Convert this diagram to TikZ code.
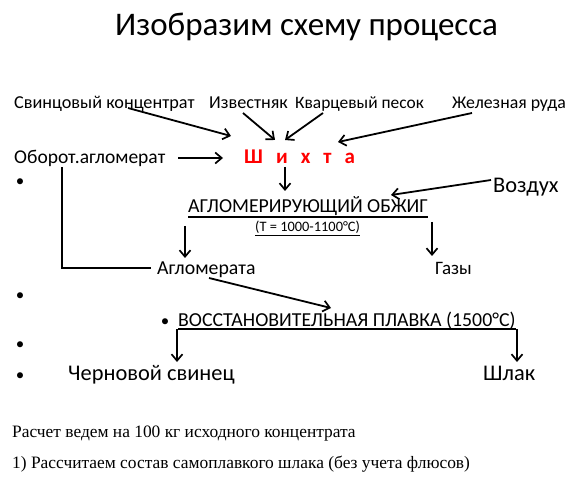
\documentclass[tikz,border=0pt]{standalone}
\usepackage{fontspec}
\setmainfont{Carlito}
\newfontfamily\tnr{Liberation Serif}
\usetikzlibrary{arrows.meta,calc}
\tikzset{
  lbl/.style={anchor=base west, inner sep=0pt, font=\fontsize{18.2}{21}\selectfont},
  mid/.style={anchor=base west, inner sep=0pt, font=\fontsize{19.8}{23}\selectfont},
  big/.style={anchor=base west, inner sep=0pt, font=\fontsize{22.4}{26}\selectfont},
  arr/.style={line width=1.8pt, -{Straight Barb[length=6.5pt,width=11pt,line width=1.7pt]}},
  ln/.style={line width=1.8pt},
  bul/.style={anchor=base, inner sep=0pt, font=\fontsize{17}{20}\selectfont},
  ul/.style={line width=1.2pt}
}
\begin{document}
\begin{tikzpicture}[x=1pt,y=-1pt]
\useasboundingbox (0,0) rectangle (570,478);
% title
\node[anchor=base west, inner sep=0pt, font=\fontsize{33}{38}\selectfont] (title) at (115,36) {Изобразим схему процесса};
% inputs
\node[lbl] (svin) at (14,109) {Свинцовый концентрат};
\node[lbl] (izv) at (209,109) {Известняк};
\node[lbl, font=\fontsize{17.4}{21}\selectfont] (kvar) at (295,109) {Кварцевый песок};
\node[lbl, font=\fontsize{17.8}{21}\selectfont] (zhel) at (452,109) {Железная руда};
\node[mid, font=\fontsize{19.5}{23}\selectfont] (obor) at (14,164) {Оборот.агломерат};
\node[anchor=base west, inner sep=0pt, font=\fontsize{21}{25}\selectfont\bfseries, text=red] (shihta) at (244,164) {Ш\hspace{0.62em}и\hspace{0.62em}х\hspace{0.62em}т\hspace{0.62em}а};
\node[big] (vozd) at (493,193) {Воздух};
\node[mid] (aglob) at (188,213) {АГЛОМЕРИРУЮЩИЙ ОБЖИГ};
\node[anchor=base west, inner sep=0pt, font=\fontsize{14.4}{17}\selectfont] (temp) at (255,232) {(T = 1000-1100°C)};
\node[mid] (aglo) at (157,275) {Агломерата};
\node[mid, font=\fontsize{19}{23}\selectfont] (gazy) at (435,275) {Газы};
\node[bul] (b5) at (165,326) {•};
\node[mid] (vos) at (178,326) {ВОССТАНОВИТЕЛЬНАЯ ПЛАВКА (1500°C)};
\node[big] (cher) at (68,380) {Черновой свинец};
\node[big] (shlak) at (483,380) {Шлак};
% bullets
\node[bul] (b1) at (20,187) {•};
\node[bul] (b2) at (20,301) {•};
\node[bul] (b3) at (20,349) {•};
\node[bul] (b4) at (20,380) {•};
% underlines
\draw[ul] ($(aglob.base west)+(0,4)$) -- ($(aglob.base east)+(0,4)$);
\draw[line width=0.9pt] ($(temp.base west)+(0,3)$) -- ($(temp.base east)+(0,3)$);
\draw[ul] ($(vos.base west)+(0,3)$) -- ($(vos.base east)+(0,3)$);
% connector end points
\coordinate (s1) at (128,108);
\coordinate (e1) at (231,136);
\coordinate (s2) at (243,113);
\coordinate (e2) at (275,140);
\coordinate (s3) at (323,113);
\coordinate (e3) at (285,140);
\coordinate (s4) at (472,113);
\coordinate (e4) at (338,142);
\coordinate (s5) at (178,158);
\coordinate (e5) at (223,158);
\coordinate (s6) at (285,167);
\coordinate (e6) at (285,191);
\coordinate (s7) at (491,180);
\coordinate (e7) at (391,195);
\coordinate (s8) at (185,226);
\coordinate (e8) at (185,258);
\coordinate (s9) at (432,222);
\coordinate (e9) at (432,256);
\coordinate (lp1) at (62,167);
\coordinate (lp2) at (62,268);
\coordinate (lp3) at (151,268);
\coordinate (s10) at (209,278);
\coordinate (e10) at (331,308);
\coordinate (s11) at (177,329);
\coordinate (e11) at (177,362);
\coordinate (s12) at (517,329);
\coordinate (e12) at (517,362);
\draw[arr] (s1) -- (e1);
\draw[arr] (s2) -- (e2);
\draw[arr] (s3) -- (e3);
\draw[arr] (s4) -- (e4);
\draw[arr] (s5) -- (e5);
\draw[arr] (s6) -- (e6);
\draw[arr] (s7) -- (e7);
\draw[arr] (s8) -- (e8);
\draw[arr] (s9) -- (e9);
\draw[ln] (lp1) -- (lp2) -- (lp3);
\draw[arr] (s10) -- (e10);
\draw[arr] (s11) -- (e11);
\draw[arr] (s12) -- (e12);
% bottom text
\node[anchor=base west, inner sep=0pt, font=\tnr\fontsize{17.4}{20}\selectfont] (t1) at (12,437) {Расчет ведем на 100 кг исходного концентрата};
\node[anchor=base west, inner sep=0pt, font=\tnr\fontsize{17.4}{20}\selectfont] (t2) at (12,468) {1) Рассчитаем состав самоплавкого шлака (без учета флюсов)};
\end{tikzpicture}
\end{document}
